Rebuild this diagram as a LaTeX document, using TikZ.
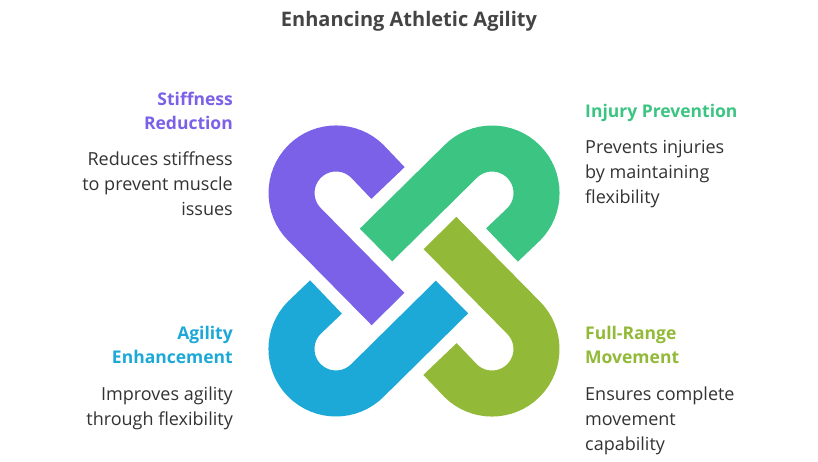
\documentclass[tikz,border=0pt]{standalone}
\usepackage{fontspec}
\setmainfont{Open Sans}
\definecolor{cpur}{HTML}{7B61E8}
\definecolor{cgrn}{HTML}{3CC482}
\definecolor{clim}{HTML}{92BA38}
\definecolor{cblu}{HTML}{1DA9D8}
\definecolor{ctxt}{HTML}{333333}
\definecolor{ctitle}{HTML}{444444}
\tikzset{
  band/.style={line width=46pt, line cap=butt},
  head/.style={font=\fontsize{17.5}{24}\selectfont\bfseries, inner sep=0pt},
  body/.style={font=\fontsize{18}{25}\selectfont, text=ctxt, inner sep=0pt},
}
\newcommand{\hookpath}[1]{\draw[band,#1] (-26,88) -- (-46.5,109.5) arc[start angle=45,end angle=225,radius=44.5] -- (-26,-38);}
\begin{document}
\begin{tikzpicture}[x=1pt,y=-1pt]
\useasboundingbox[fill=white] (0,0) rectangle (818,462);
\node[font=\fontsize{20}{24}\selectfont\bfseries, text=ctitle, anchor=base] (title) at (409,27) {Enhancing Athletic Agility};
\begin{scope}[shift={(414,271)}, yscale=-1]
  \hookpath{cpur}
  \begin{scope}[rotate=-90]\hookpath{cblu}\end{scope}
  \begin{scope}[rotate=-180]\hookpath{clim}\end{scope}
  \begin{scope}[rotate=-270]\hookpath{cgrn}\end{scope}
\end{scope}
\node[head, text=cpur, align=right, anchor=north east] (h1) at (233,92) {Stiffness\\Reduction};
\node[body, align=right, anchor=north east] (b1) at (233,152) {Reduces stiffness\\to prevent muscle\\issues};
\node[head, text=cgrn, align=left, anchor=north west] (h2) at (585,104) {Injury Prevention};
\node[body, align=left, anchor=north west] (b2) at (585,140) {Prevents injuries\\by maintaining\\flexibility};
\node[head, text=cblu, align=right, anchor=north east] (h3) at (233,326) {Agility\\Enhancement};
\node[body, align=right, anchor=north east] (b3) at (233,387) {Improves agility\\through flexibility};
\node[head, text=clim, align=left, anchor=north west] (h4) at (585,326) {Full-Range\\Movement};
\node[body, align=left, anchor=north west] (b4) at (585,387) {Ensures complete\\movement\\capability};
\end{tikzpicture}
\end{document}
